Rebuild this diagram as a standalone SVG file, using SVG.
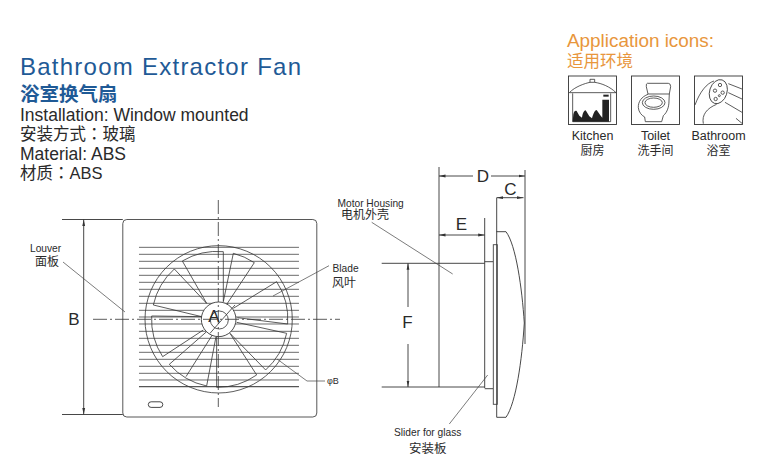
<svg xmlns="http://www.w3.org/2000/svg" width="776" height="469" viewBox="0 0 776 469">
<style>
text{font-family:"Liberation Sans","Noto Sans CJK SC",sans-serif;fill:#2a2a2a}
.tc{font-family:"Liberation Sans","Noto Sans CJK TC",sans-serif}
.ln{fill:none;stroke:#333;stroke-width:.9}
.th{fill:none;stroke:#444;stroke-width:.7}
.z{fill:none;stroke:#333;stroke-width:2.4}
.lv{stroke:#555;stroke-width:2.6}
.cl{fill:none;stroke:#333;stroke-width:.8;stroke-dasharray:14 3 2 3}
.dim{font-size:17px;text-anchor:middle}
.sm{font-size:10.2px}
.cn{font-size:12px}
.icl{font-size:12.5px;text-anchor:middle}
.icc{font-size:12px;text-anchor:middle}
.or{fill:#e8963c}
.bl{fill:#1f5a96}
</style>
<defs>
<marker id="ah" markerUnits="userSpaceOnUse" markerWidth="7" markerHeight="4" refX="6.5" refY="2" orient="auto-start-reverse"><path d="M0 .6L6.5 2L0 3.4z" fill="#333"/></marker>
</defs>
<rect width="776" height="469" fill="#fff"/>

<g id="heading">
<text x="20" y="75" font-size="24" class="bl" textLength="281" lengthAdjust="spacing">Bathroom Extractor Fan</text>
<text x="20" y="101" font-size="19.5" font-weight="700" class="bl">浴室换气扇</text>
<text x="20" y="121" font-size="17.5">Installation: Window mounted</text>
<text x="20" y="140" font-size="16.5" class="tc">安装方式：玻璃</text>
<text x="20" y="159.5" font-size="17.5">Material: ABS</text>
<text x="20" y="179" font-size="16.5" class="tc">材质：ABS</text>
</g>

<g id="application">
<text x="567" y="46.5" font-size="18.9" class="or">Application icons:</text>
<text x="567" y="66.5" font-size="16.5" class="or">适用环境</text>
</g>

<g id="icon-kitchen">
<rect x="568.5" y="76" width="48" height="48.5" class="ln"/>
<g transform="translate(560 25) scale(.3333)">
<path class="z" d="M28 203C45 185 75 175 90 172M104 172C125 175 150 185 168 203M28 203H168"/>
<path class="z" d="M90 172V163H104V172H90M38 205V290H152V205"/>
<path fill="#222" d="M38 290L40 268C42 258 46 256 50 258L58 272L66 278C68 265 72 256 77 256L88 274L96 280C100 265 105 255 110 255L122 272L127 278V224H147V290z"/>
<path fill="#222" d="M130 209H146V215H130z"/>
</g>
<text x="592.5" y="140" class="icl">Kitchen</text>
<text x="592.5" y="155" class="icc">厨房</text>
</g>

<g id="icon-toilet">
<rect x="631.5" y="76" width="48" height="48.5" class="ln"/>
<g transform="translate(560 25) scale(.3333)">
<path class="z" d="M262 175H325Q332 175 332 185L328 207H264L259 185Q258 175 262 175z"/>
<path class="z" d="M264 208C245 215 234 230 235 248C236 262 246 272 254 276L256 290H305L310 272C322 262 327 245 327 228L328 207"/>
<ellipse class="z" cx="281" cy="233" rx="34" ry="20"/>
<ellipse class="z" cx="281" cy="233" rx="26" ry="14"/>
</g>
<text x="655.5" y="140" class="icl">Toilet</text>
<text x="655.5" y="155" class="icc">洗手间</text>
</g>

<g id="icon-bathroom">
<rect x="694.5" y="76" width="48" height="48.5" class="ln"/>
<g transform="translate(560 25) scale(.3333)">
<path class="z" d="M405 240C420 200 440 175 462 168M430 296C425 270 440 250 470 238"/>
<ellipse class="z" cx="475" cy="200" rx="26" ry="37" transform="rotate(18 475 200)"/>
<circle class="z" cx="480" cy="180" r="5"/><circle class="z" cx="465" cy="197" r="5"/><circle class="z" cx="488" cy="203" r="5"/><circle class="z" cx="467" cy="222" r="5"/><circle class="z" cx="478" cy="212" r="3"/>
<path class="z" d="M505 176L546 192M505 203L546 222M495 232L546 262M528 280L546 295"/>
</g>
<text x="718.5" y="140" class="icl">Bathroom</text>
<text x="718.5" y="155" class="icc">浴室</text>
</g>

<g id="front-view">
<rect x="122.8" y="219.5" width="194" height="197.5" rx="4" fill="#fff" stroke="#444" stroke-width=".9"/>
<rect x="148.3" y="401.8" width="14.5" height="5.6" rx="2.8" class="ln"/>
<g id="louver" transform="translate(60 200) scale(.3333)">
<path class="lv" d="M237 142H717M237 163H717M237 184H717M237 205H717M237 226H717M237 247H717M237 268H717M237 289H717M237 310H717M237 331H717M237 351H717M237 372H717M237 394H717M237 415H717M237 436H717M237 457H717M237 478H717M237 499H717M237 520H717M237 540H717"/>
<path d="M237 560H717" stroke="#555" stroke-width="4"/>
</g>
<g id="fan" transform="translate(60 200) scale(.3333)">
<circle class="z" cx="476" cy="358" r="221"/>
<path class="z" d="M440 310L367 183A205 205 0 0 1 490 155V305"/>
<path class="z" d="M490 305L520 160A205 205 0 0 1 583 188L497 318"/>
<path class="z" d="M520 325L650 245A205 205 0 0 1 683 372L532 353"/>
<path class="z" d="M530 367L680 400A205 205 0 0 1 617 510L510 400"/>
<path class="z" d="M510 400L590 525A205 205 0 0 1 470 562V410"/>
<path class="z" d="M468 410L440 558A205 205 0 0 1 328 493L440 395"/>
<path class="z" d="M378 530L460 400"/>
<path class="z" d="M430 390L308 470A205 205 0 0 1 275 348L425 350"/>
<path class="z" d="M425 350L280 315A205 205 0 0 1 343 207L440 310"/>
<circle cx="476" cy="358" r="52" fill="#fff" stroke="#333" stroke-width="2.6"/>
<circle class="z" cx="478" cy="360" r="27"/>
<path class="z" d="M450 400L525 315"/>
</g>
<path class="cl" d="M93 319.3H340"/>
<path class="cl" d="M218.3 200V407"/>
<text x="214" y="322" class="dim">A</text>
</g>

<g id="side-view">
<path class="ln" d="M439 263.3H484.7M439 387H484.7M439 167V387M484.7 218V388"/>
<path class="ln" d="M484.7 261.7H493.3M484.7 388.7H493.3"/>
<rect x="493.3" y="244.7" width="4" height="159.6" fill="#fff" stroke="#444" stroke-width=".9"/>
<path class="ln" d="M496.7 231.7V417.3H506C516 403 522 360 524.3 323C522 288 516 245 506 231.7z"/>
</g>

<g id="connectors">
<path class="ln" d="M62 219.5H122.8M62 414.5H122.8"/>
<path class="ln" d="M83.7 219.5V414.5" marker-start="url(#ah)" marker-end="url(#ah)"/>
<path class="ln" d="M381.7 263.3H439M381.7 387H439"/>
<path class="ln" d="M408 263.3V307" marker-start="url(#ah)"/>
<path class="ln" d="M408 344V387" marker-end="url(#ah)"/>
<path class="ln" d="M525 170V344"/>
<path class="ln" d="M439 176H473" marker-start="url(#ah)"/>
<path class="ln" d="M491 176H525" marker-end="url(#ah)"/>
<path class="ln" d="M439 235H484.7" marker-start="url(#ah)" marker-end="url(#ah)"/>
<path class="ln" d="M496.7 197.7H523.5" marker-start="url(#ah)" marker-end="url(#ah)"/>
<path class="ln" d="M496.7 197.7V232"/>
<path class="th" d="M63 262L125 312"/>
<path class="th" d="M329 265.7L273 296"/>
<path class="th" d="M277 359L307 381H325"/>
<path class="th" d="M371.7 222.3L452.7 274"/>
<path class="th" d="M449.3 424L487.7 375"/>
</g>

<g id="labels">
<text x="74" y="325" class="dim">B</text>
<text x="483" y="182" class="dim">D</text>
<text x="510.5" y="195" class="dim">C</text>
<text x="461.5" y="230" class="dim">E</text>
<text x="407.5" y="328" class="dim">F</text>
<text x="30" y="252" class="sm">Louver</text>
<text x="35" y="266" class="cn">面板</text>
<text x="332.5" y="272" class="sm">Blade</text>
<text x="332" y="287" class="cn">风叶</text>
<text x="327" y="384" font-size="9">φB</text>
<text x="337.5" y="206.5" class="sm">Motor Housing</text>
<text x="341" y="218.5" class="cn">电机外壳</text>
<text x="394" y="436" class="sm">Slider for glass</text>
<text x="409" y="452.5" font-size="12.5">安装板</text>
</g>
</svg>
